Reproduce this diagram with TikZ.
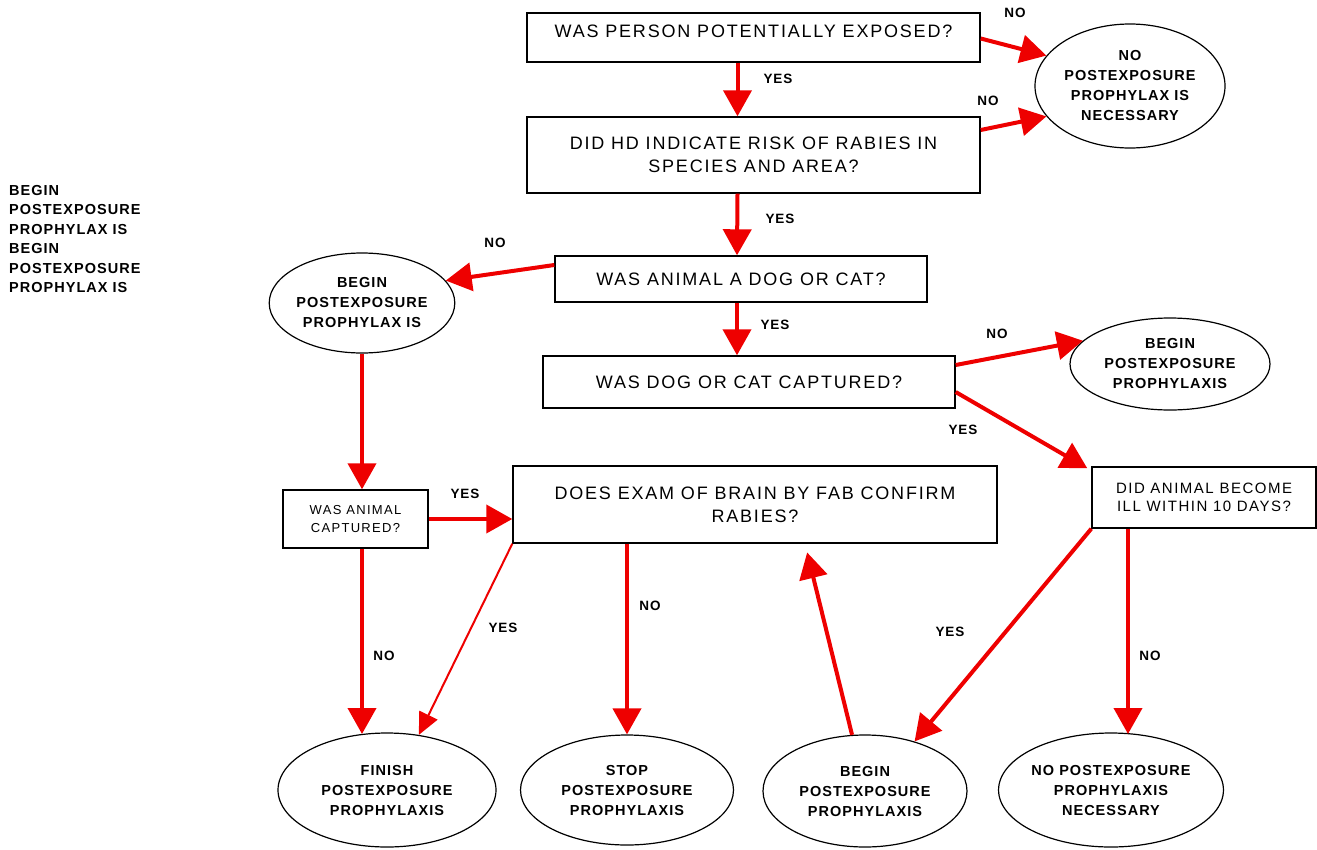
\documentclass[tikz,border=0pt]{standalone}
\usepackage{fontspec}
\setmainfont{Liberation Sans}
\newfontfamily\spf{Liberation Sans}[LetterSpace=10]
\newfontfamily\spb{Liberation Sans Bold}[LetterSpace=7]
\usetikzlibrary{arrows.meta,shapes.geometric}
\definecolor{arrred}{RGB}{238,0,0}
\begin{document}
\begin{tikzpicture}[x=1pt,y=-1pt,
  qbox/.style={draw=black,line width=1.4pt,inner sep=0pt,align=center,
    font=\spf\fontsize{18}{23}\selectfont},
  sbox/.style={qbox,font=\spf\fontsize{15}{18}\selectfont},
  tbox/.style={qbox,font=\spf\fontsize{13}{18}\selectfont},
  oval/.style={draw=black,line width=1.2pt,ellipse,inner sep=0pt,align=center,
    font=\spb\fontsize{14.5}{20}\selectfont},
  lbl/.style={font=\spb\fontsize{13.5}{15}\selectfont},
  arr/.style={draw=arrred,line width=4pt,-{Triangle[width=28pt,length=26pt]}},
  thinarr/.style={draw=arrred,line width=2pt,-{Triangle[width=20pt,length=22pt]}}]
\useasboundingbox (0,0) rectangle (1317,849);

% question boxes
\node[qbox,minimum width=453,minimum height=49] (b1) at (753.5,37.5) {};
\node[qbox,draw=none] (t1) at ([yshift=6]b1.center) {WAS PERSON POTENTIALLY EXPOSED?};
\node[qbox,minimum width=453,minimum height=76] (b2) at (753.5,155)
  {DID HD INDICATE RISK OF RABIES IN\\SPECIES AND AREA?};
\node[qbox,minimum width=372,minimum height=46] (b3) at (741,279) {WAS ANIMAL A DOG OR CAT?};
\node[qbox,minimum width=412,minimum height=52] (b4) at (749,382) {WAS DOG OR CAT CAPTURED?};
\node[sbox,minimum width=224,minimum height=61] (b5) at (1204,497.5)
  {DID ANIMAL BECOME\\ILL WITHIN 10 DAYS?};
\node[tbox,minimum width=145,minimum height=58] (b6) at (355.5,519)
  {WAS ANIMAL\\CAPTURED?};
\node[qbox,minimum width=484,minimum height=77] (b7) at (755,504.5)
  {DOES EXAM OF BRAIN BY FAB CONFIRM\\RABIES?};

% outcome ellipses
\node[oval,minimum width=190,minimum height=124] (e1) at (1130,86)
  {NO\\POSTEXPOSURE\\PROPHYLAX IS\\NECESSARY};
\node[oval,minimum width=185,minimum height=100] (e2) at (362,303)
  {BEGIN\\POSTEXPOSURE\\PROPHYLAX IS};
\node[oval,minimum width=200,minimum height=92] (e3) at (1170,364)
  {BEGIN\\POSTEXPOSURE\\PROPHYLAXIS};
\node[oval,minimum width=218,minimum height=114] (f1) at (387,790)
  {FINISH\\POSTEXPOSURE\\PROPHYLAXIS};
\node[oval,minimum width=213,minimum height=110] (f2) at (627,790)
  {STOP\\POSTEXPOSURE\\PROPHYLAXIS};
\node[oval,minimum width=204,minimum height=112] (f3) at (865,791)
  {BEGIN\\POSTEXPOSURE\\PROPHYLAXIS};
\node[oval,minimum width=204,minimum height=114] (f4) at (1111,790)
  {NO POSTEXPOSURE\\PROPHYLAXIS\\NECESSARY};

% stray text at left
\node[anchor=north west,inner sep=0pt,align=left,font=\spb\fontsize{14.5}{19.5}\selectfont] (lt) at (9,185)
  {BEGIN\\POSTEXPOSURE\\PROPHYLAX IS\\BEGIN\\POSTEXPOSURE\\PROPHYLAX IS};

% connectors
\draw[arr] ([xshift=-16]b1.south) -- ([xshift=-16]b2.north);
\draw[arr] ([yshift=-1]b1.east) -- (e1.160);
\draw[arr] ([yshift=25]b2.east) -- (e1.200);
\draw[arr] ([xshift=-16]b2.south) -- ([xshift=-4]b3.north);
\draw[arr] ([yshift=14]b3.west) -- (e2.15);
\draw[arr] ([xshift=-4]b3.south) -- ([xshift=-12]b4.north);
\draw[arr] ([yshift=17]b4.east) -- (e3.165);
\draw[arr] ([yshift=-10]b4.east) -- ([xshift=-4,yshift=-2]b5.north west);
\draw[arr] (e2.south) -- (e2.south |- b6.north);
\draw[arr] (b6.east) -- (b6.east -| b7.west);
\coordinate (f1top) at (362,734);
\draw[arr] (b6.south -| e2.south) -- (f1top);
\draw[thinarr] (b7.south west) -- (f1.60);
\draw[arr] (b7.south -| f2.north) -- (f2.north);
\draw[arr,shorten >=9pt] (f3.103) -- ([xshift=50]b7.south);
\draw[arr] (b5.south west) -- (f3.45);
\coordinate (f4top) at (1128,734);
\draw[arr] (b5.south -| f4top) -- (f4top);

% labels
\node[lbl] (l1) at (1015,13) {NO};
\node[lbl] (l2) at (778,79) {YES};
\node[lbl] (l3) at (988,101) {NO};
\node[lbl] (l4) at (780,219) {YES};
\node[lbl] (l5) at (495,243) {NO};
\node[lbl] (l6) at (775,325) {YES};
\node[lbl] (l7) at (997,334) {NO};
\node[lbl] (l8) at (963,430) {YES};
\node[lbl] (l9) at (465,494) {YES};
\node[lbl] (l10) at (384,656) {NO};
\node[lbl] (l11) at (503,628) {YES};
\node[lbl] (l12) at (650,606) {NO};
\node[lbl] (l13) at (950,632) {YES};
\node[lbl] (l14) at (1150,656) {NO};
\end{tikzpicture}
\end{document}
